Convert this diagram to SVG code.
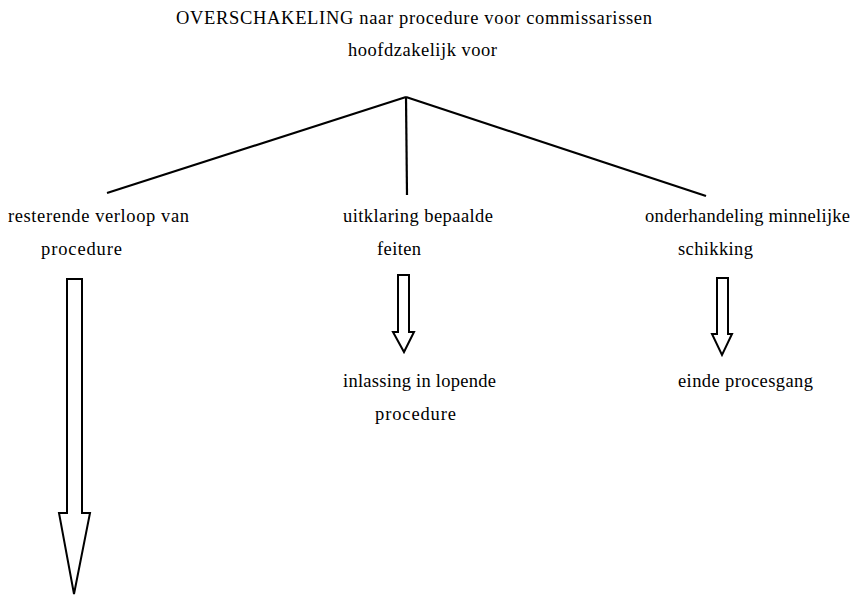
<svg xmlns="http://www.w3.org/2000/svg" width="856" height="596" viewBox="0 0 856 596">
<style>
text{font-family:'Liberation Serif','DejaVu Serif',serif;font-size:18.5px;fill:#000}
.ln{stroke:#000;stroke-width:2.2;fill:none}
.ar{stroke:#000;stroke-width:2;fill:#fff;stroke-linejoin:miter}
</style>
<rect width="856" height="596" fill="#fff"/>
<g id="root" font-family="Liberation Serif, serif">
<text x="176" y="24" textLength="476" lengthAdjust="spacing">OVERSCHAKELING naar procedure voor commissarissen</text>
<text x="348" y="56" textLength="149" lengthAdjust="spacing">hoofdzakelijk voor</text>
</g>
<g id="connectors">
<line class="ln" x1="406" y1="97" x2="107" y2="193"/>
<line class="ln" x1="406" y1="97" x2="407" y2="195"/>
<line class="ln" x1="406" y1="97" x2="706" y2="196"/>
<path class="ar" d="M67,279 H82 V513 H90 L74,594 L59,513 H67 Z"/>
<path class="ar" d="M398,275 H409 V332 H414 L404,352 L393,332 H398 Z"/>
<path class="ar" d="M717,278 H728 V334 H732 L722,355 L712,334 H717 Z"/>
</g>
<g id="left">
<text x="8" y="222" textLength="181" lengthAdjust="spacing">resterende verloop  van</text>
<text x="41" y="255" textLength="81" lengthAdjust="spacing">procedure</text>
</g>
<g id="middle">
<text x="343" y="222" textLength="150" lengthAdjust="spacing">uitklaring bepaalde</text>
<text x="377" y="255" textLength="44" lengthAdjust="spacing">feiten</text>
</g>
<g id="right">
<text x="645" y="222" textLength="205" lengthAdjust="spacing">onderhandeling minnelijke</text>
<text x="678" y="255" textLength="75" lengthAdjust="spacing">schikking</text>
</g>
<g id="middle-result">
<text x="343" y="387" textLength="153" lengthAdjust="spacing">inlassing in lopende</text>
<text x="375" y="420" textLength="81" lengthAdjust="spacing">procedure</text>
</g>
<g id="right-result">
<text x="678" y="387" textLength="135" lengthAdjust="spacing">einde procesgang</text>
</g>
</svg>
